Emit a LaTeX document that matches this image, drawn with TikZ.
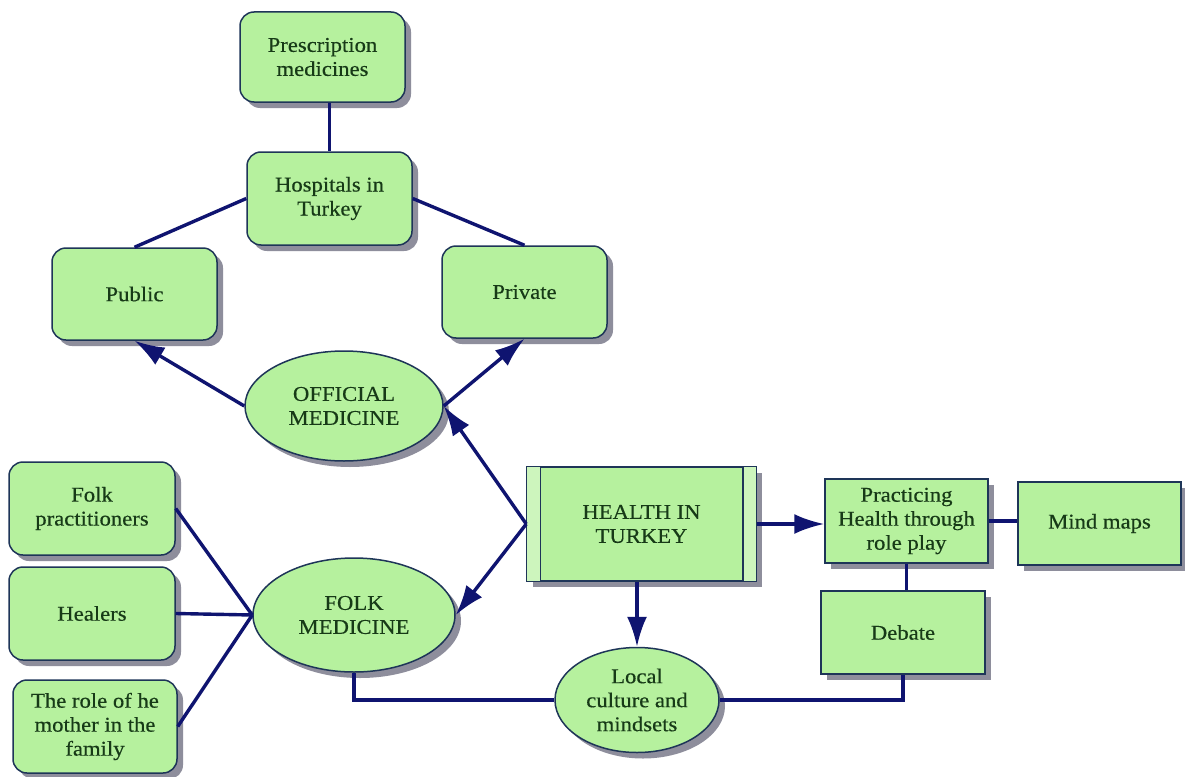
\documentclass[tikz,border=0pt]{standalone}
\usepackage{fontspec}
\setmainfont{Liberation Serif}[FakeStretch=1.08,FakeBold=0.4]
\usetikzlibrary{shapes.geometric,shadows,arrows.meta}
\definecolor{boxfill}{HTML}{B6F19E}
\definecolor{stripfill}{HTML}{CDF5BD}
\definecolor{edgec}{HTML}{1E3558}
\definecolor{linkc}{HTML}{0F1470}
\definecolor{txtc}{HTML}{173A17}
\definecolor{shadec}{HTML}{8E8E9C}
\begin{document}
\begin{tikzpicture}[x=1pt,y=-1pt,
  base/.style={draw=edgec, line width=1.5pt, fill=boxfill, text=txtc, align=center,
    font=\fontsize{21}{24}\selectfont, inner sep=0pt,
    drop shadow={shadow xshift=6pt, shadow yshift=-6pt, fill=shadec, opacity=1}},
  rbox/.style={base, rectangle, rounded corners=14pt},
  sbox/.style={base, rectangle},
  ell/.style={base, ellipse},
  link/.style={draw=linkc, line width=3.4pt},
  arr/.style={link, -{Latex[length=30pt,width=20pt]}}
]
\fill[white] (0,0) rectangle (1185,776);
\useasboundingbox (0,0) rectangle (1185,776);

% nodes
\node[rbox, minimum width=165pt, minimum height=90pt] (presc) at (322.5,57) {Prescription\\medicines};
\node[rbox, minimum width=165pt, minimum height=93pt] (hosp) at (329.5,198.5) {Hospitals in\\Turkey};
\node[rbox, minimum width=165pt, minimum height=92pt] (public) at (134.5,294) {Public};
\node[rbox, minimum width=165pt, minimum height=92pt] (private) at (524.5,292) {Private};
\node[ell, minimum width=198pt, minimum height=110pt] (official) at (344,406) {OFFICIAL\\MEDICINE};
\node[ell, minimum width=202pt, minimum height=114pt] (folk) at (354,615) {FOLK\\MEDICINE};
\node[sbox, minimum width=229pt, minimum height=114pt] (health) at (641.5,524) {HEALTH IN\\TURKEY};
\node[sbox, minimum width=163pt, minimum height=84pt] (practicing) at (906.5,521) {Practicing\\Health through\\role play};
\node[sbox, minimum width=163pt, minimum height=83pt] (mindmaps) at (1099.5,523.5) {Mind maps};
\node[sbox, minimum width=164pt, minimum height=83pt] (debate) at (903,632.5) {Debate};
\node[ell, minimum width=164pt, minimum height=105pt] (local) at (637,700) {Local\\culture and\\mindsets};
\node[rbox, minimum width=166pt, minimum height=93pt] (folkp) at (92,508.5) {Folk\\practitioners};
\node[rbox, minimum width=166pt, minimum height=93pt] (healers) at (92,613.5) {Healers};
\node[rbox, minimum width=164pt, minimum height=93pt] (mother) at (95,726.5) {The role of he\\mother in the\\family};

% side strips of the central box
\fill[stripfill] ([xshift=0.75pt,yshift=-0.75pt]health.north west) rectangle ([xshift=14pt,yshift=0.75pt]health.south west);
\fill[stripfill] ([xshift=-0.75pt,yshift=-0.75pt]health.north east) rectangle ([xshift=-14pt,yshift=0.75pt]health.south east);
\draw[edgec, line width=1.5pt] ([xshift=14pt]health.north west) -- ([xshift=14pt]health.south west);
\draw[edgec, line width=1.5pt] ([xshift=-14pt]health.north east) -- ([xshift=-14pt]health.south east);

% connectors
\draw[link] (presc.south -| hosp.north) -- (hosp.north);
\draw[link] (hosp.west) -- (public.north);
\draw[link] (hosp.east) -- (private.north);
\draw[arr] (official.west) -- (public.south);
\draw[arr] (official.east) -- (private.south);
\draw[arr] (health.west) -- (official.east);
\draw[arr] (health.west) -- (folk.east);
\draw[arr] (local.north |- health.south) -- (local.north);
\draw[arr] (health.east) -- (health.east -| practicing.west);
\draw[link] (practicing.east) -- (practicing.east -| mindmaps.west);
\draw[link] (practicing.south) -- (practicing.south |- debate.north);
\draw[link] (folk.south) |- (local.west);
\draw[link] (local.east) -| (debate.south);
\draw[link] (folkp.east) -- (folk.west);
\draw[link] (healers.east) -- (folk.west);
\draw[link] (mother.east) -- (folk.west);
\end{tikzpicture}
\end{document}
